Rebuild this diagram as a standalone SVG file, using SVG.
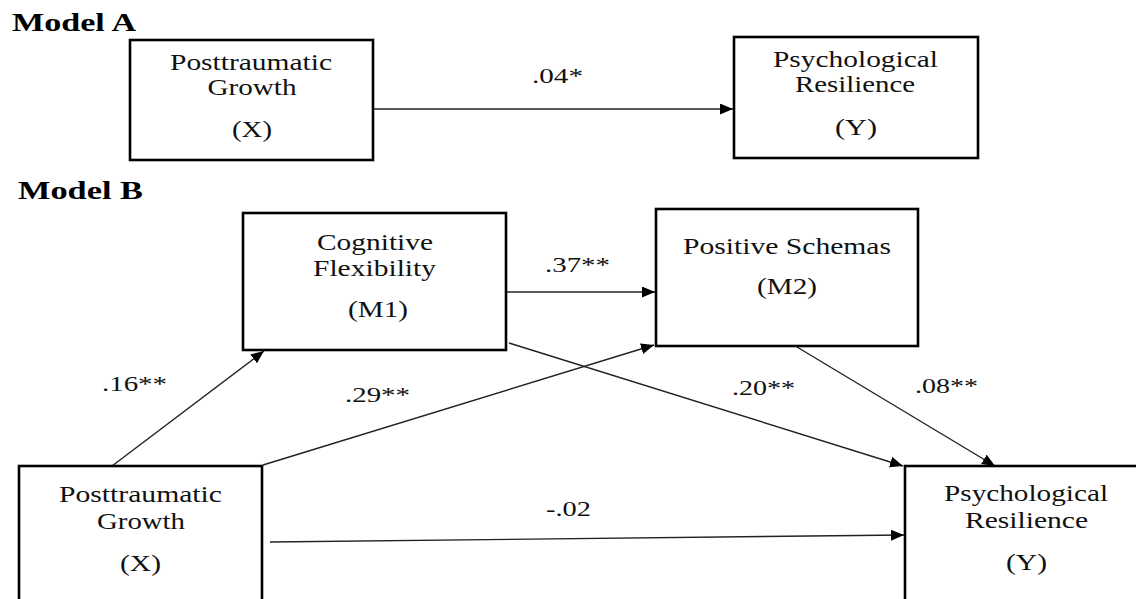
<svg xmlns="http://www.w3.org/2000/svg" width="1136" height="599" viewBox="0 0 1136 599" font-family="Liberation Serif, Times New Roman, serif">
<defs>
<style>
.box{fill:#fff;stroke:#000;stroke-width:2.6}
.t{font-size:22.5px;fill:#111;text-anchor:middle}
.n{font-size:21px;fill:#111;text-anchor:middle}
.h{font-size:25px;font-weight:bold;fill:#000}
.c{stroke:#222;stroke-width:1.4;fill:none;marker-end:url(#ah)}
</style>
<marker id="ah" markerUnits="userSpaceOnUse" markerWidth="14" markerHeight="12" refX="13" refY="5.5" orient="auto">
<path d="M0,0 L13,5.5 L0,11 Z" fill="#000"/>
</marker>
</defs>
<rect width="1136" height="599" fill="#fff"/>
<text class="h" x="12" y="31" textLength="124" lengthAdjust="spacingAndGlyphs">Model A</text>
<text class="h" x="18" y="199" textLength="125" lengthAdjust="spacingAndGlyphs">Model B</text>

<g id="connectors">
<line class="c" x1="373" y1="109" x2="733" y2="109"/>
<line class="c" x1="506" y1="292" x2="655" y2="292"/>
<line class="c" x1="112" y1="466" x2="264" y2="351"/>
<line class="c" x1="263" y1="465" x2="654" y2="345"/>
<line class="c" x1="509" y1="343" x2="903" y2="466"/>
<line class="c" x1="797" y1="347" x2="995" y2="466"/>
<line class="c" x1="270" y1="542" x2="904" y2="535"/>
<text class="n" x="557.5" y="83" textLength="51" lengthAdjust="spacingAndGlyphs">.04*</text>
<text class="n" x="577.5" y="272" textLength="65" lengthAdjust="spacingAndGlyphs">.37**</text>
<text class="n" x="134.5" y="391" textLength="65" lengthAdjust="spacingAndGlyphs">.16**</text>
<text class="n" x="377.5" y="402" textLength="65" lengthAdjust="spacingAndGlyphs">.29**</text>
<text class="n" x="763.5" y="395" textLength="63" lengthAdjust="spacingAndGlyphs">.20**</text>
<text class="n" x="946.5" y="393" textLength="63" lengthAdjust="spacingAndGlyphs">.08**</text>
<text class="n" x="568.5" y="516" textLength="45" lengthAdjust="spacingAndGlyphs">-.02</text>
</g>

<g id="a-x">
<rect class="box" x="130" y="40" width="243" height="120"/>
<text class="t" x="251" y="70" textLength="162" lengthAdjust="spacingAndGlyphs">Posttraumatic</text>
<text class="t" x="252" y="95" textLength="89" lengthAdjust="spacingAndGlyphs">Growth</text>
<text class="t" x="252" y="137" textLength="40" lengthAdjust="spacingAndGlyphs">(X)</text>
</g>
<g id="a-y">
<rect class="box" x="734" y="37" width="244" height="121"/>
<text class="t" x="855.5" y="67" textLength="165" lengthAdjust="spacingAndGlyphs">Psychological</text>
<text class="t" x="855" y="92" textLength="120" lengthAdjust="spacingAndGlyphs">Resilience</text>
<text class="t" x="856" y="135" textLength="42" lengthAdjust="spacingAndGlyphs">(Y)</text>
</g>
<g id="b-m1">
<rect class="box" x="243" y="213" width="263" height="137"/>
<text class="t" x="375" y="250" textLength="116" lengthAdjust="spacingAndGlyphs">Cognitive</text>
<text class="t" x="374.5" y="276" textLength="123" lengthAdjust="spacingAndGlyphs">Flexibility</text>
<text class="t" x="378" y="317" textLength="60" lengthAdjust="spacingAndGlyphs">(M1)</text>
</g>
<g id="b-m2">
<rect class="box" x="656" y="209" width="262" height="137"/>
<text class="t" x="787" y="254" textLength="208" lengthAdjust="spacingAndGlyphs">Positive Schemas</text>
<text class="t" x="787" y="294" textLength="60" lengthAdjust="spacingAndGlyphs">(M2)</text>
</g>
<g id="b-x">
<rect class="box" x="19" y="466" width="243" height="150"/>
<text class="t" x="140.5" y="502" textLength="163" lengthAdjust="spacingAndGlyphs">Posttraumatic</text>
<text class="t" x="141" y="529" textLength="88" lengthAdjust="spacingAndGlyphs">Growth</text>
<text class="t" x="140.5" y="571" textLength="41" lengthAdjust="spacingAndGlyphs">(X)</text>
</g>
<g id="b-y">
<rect class="box" x="905" y="466" width="250" height="150"/>
<text class="t" x="1026" y="501" textLength="164" lengthAdjust="spacingAndGlyphs">Psychological</text>
<text class="t" x="1026.5" y="528" textLength="123" lengthAdjust="spacingAndGlyphs">Resilience</text>
<text class="t" x="1026.5" y="570" textLength="41" lengthAdjust="spacingAndGlyphs">(Y)</text>
</g>
</svg>
